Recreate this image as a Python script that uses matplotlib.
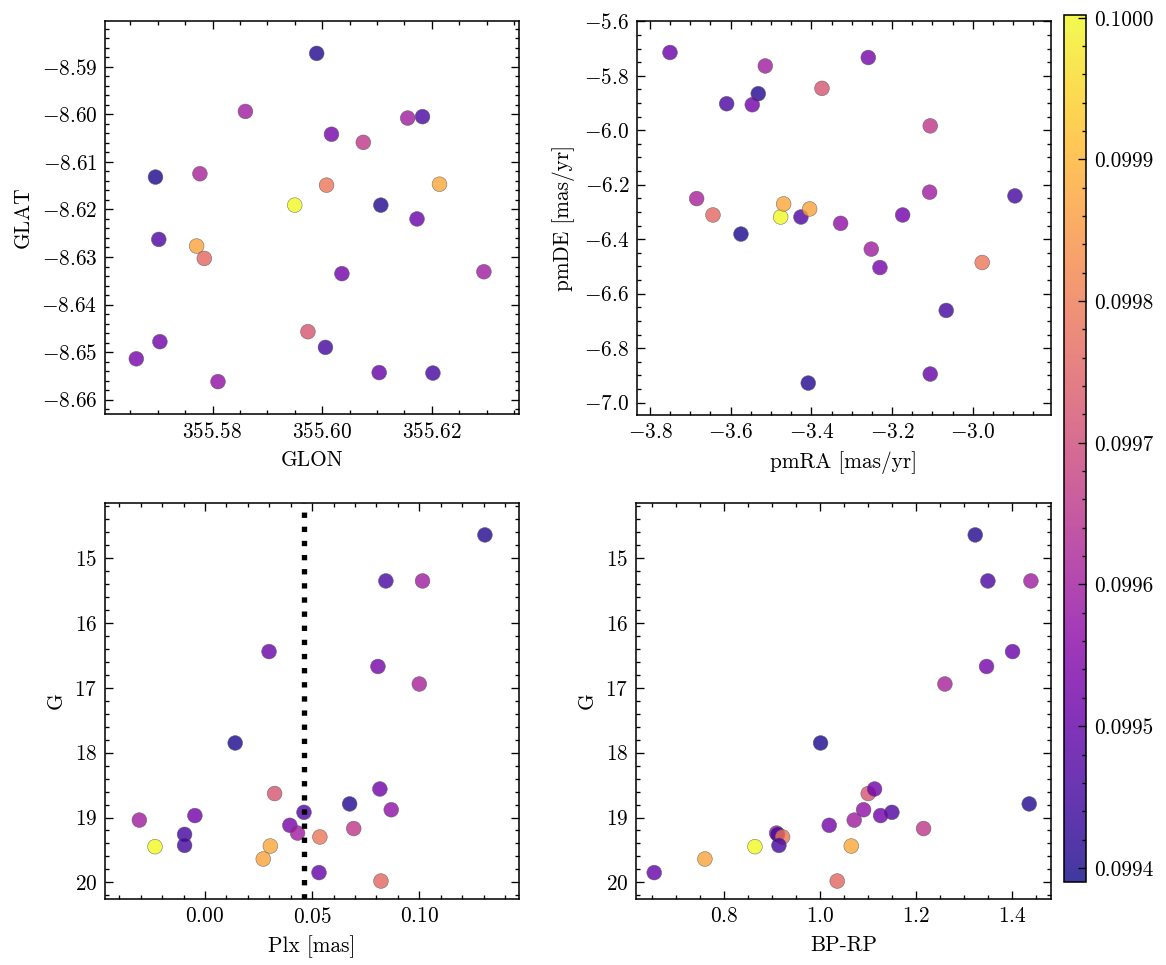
import numpy as np
import matplotlib
matplotlib.use("Agg")
import matplotlib.pyplot as plt
from matplotlib.ticker import AutoMinorLocator, MultipleLocator, FormatStrFormatter

plt.rcParams['font.family'] = 'serif'
plt.rcParams['font.serif'] = ['cmr10']
plt.rcParams['mathtext.fontset'] = 'cm'
plt.rcParams['axes.formatter.use_mathtext'] = True
plt.rcParams['font.size'] = 9.6
plt.rcParams['axes.unicode_minus'] = True

# ---- data (one entry per star) ----
prob = [0.09941, 0.09946, 0.09960, 0.09951, 0.09953, 0.09961, 0.09940, 0.09972,
        0.09952, 0.09941, 0.09957, 0.09947, 0.09952, 0.09960, 0.09953, 0.09960,
        0.09966, 0.09945, 0.09979, 0.09945, 0.10000, 0.09988, 0.09987, 0.09950,
        0.09976]
plx = [0.1306, 0.0844, 0.1015, 0.0299, 0.0807, 0.1000, 0.0141, 0.0325,
       0.0816, 0.0675, 0.0869, 0.0462, -0.0047, -0.0306, 0.0396, 0.0432,
       0.0694, -0.0095, 0.0536, -0.0095, -0.0233, 0.0305, 0.0272, 0.0532,
       0.0821]
gmag = [14.64, 15.35, 15.35, 16.44, 16.67, 16.94, 17.85, 18.63,
        18.56, 18.79, 18.88, 18.92, 18.97, 19.04, 19.12, 19.24,
        19.17, 19.26, 19.30, 19.43, 19.45, 19.44, 19.64, 19.85,
        19.98]
bprp = [1.3236, 1.350, 1.4396, 1.4014, 1.3472, 1.2604, 1.0014, 1.1007,
        1.1139, 1.4361, 1.0910, 1.150, 1.1265, 1.0715, 1.0194, 0.9097,
        1.2160, 0.912, 0.9222, 0.9146, 0.8646, 1.0653, 0.7604, 0.6548,
        1.0361]
glon = [355.5990, 355.6183, 355.6156, 355.6173, 355.6017, 355.5777, 355.5696, 355.5974,
        355.6036, 355.6107, 355.5810, 355.5702, 355.5704, 355.6295, 355.5661, 355.5860,
        355.6075, 355.6006, 355.6008, 355.6202, 355.5950, 355.6214, 355.5771, 355.6104,
        355.5785]
glat = [-8.5872, -8.6005, -8.6008, -8.6220, -8.6042, -8.6125, -8.6132, -8.6457,
        -8.6335, -8.6191, -8.6562, -8.6263, -8.6478, -8.6331, -8.6514, -8.5994,
        -8.6059, -8.6490, -8.6149, -8.6544, -8.6191, -8.6147, -8.6277, -8.6543,
        -8.6303]
pmra = [-3.5316, -3.6099, -3.5142, -3.7504, -3.2589, -3.6843, -3.5745, -3.3737,
        -3.5465, -3.4077, -3.3274, -3.4258, -3.1737, -3.1068, -3.2300, -3.2515,
        -3.1053, -2.8954, -2.9765, -3.0657, -3.4761, -3.4687, -3.4042, -3.1053,
        -3.6439]
pmde = [-5.8657, -5.9026, -5.7638, -5.7144, -5.7329, -6.2509, -6.3812, -5.8461,
        -5.9063, -6.9284, -6.3417, -6.3185, -6.3111, -6.2273, -6.5041, -6.4365,
        -5.9838, -6.2410, -6.4856, -6.6616, -6.3185, -6.2705, -6.2889, -6.8952,
        -6.3111]
plx_cut = 0.0462
cbar_ticks = [0.0994, 0.0995, 0.0996, 0.0997, 0.0998, 0.0999, 0.1000]

VMIN, VMAX = 0.09939, 0.100002

fig = plt.figure(figsize=(1166 / 160, 965 / 160), dpi=160)

def style(ax):
    ax.tick_params(which='both', direction='in', top=True, right=True, width=0.6)
    ax.tick_params(which='major', length=3.6)
    ax.tick_params(which='minor', length=1.8)
    ax.xaxis.set_minor_locator(AutoMinorLocator())
    ax.yaxis.set_minor_locator(AutoMinorLocator())
    for s in ax.spines.values():
        s.set_linewidth(0.7)

def scat(ax, x, y):
    return ax.scatter(x, y, c=prob, cmap='plasma', vmin=VMIN, vmax=VMAX, s=44,
                      alpha=0.8, edgecolors='0.35', linewidths=0.25, zorder=3)

L1, W = 0.0901, 0.3550
L2 = 0.5463
B1, H = 0.5710, 0.4072
B2 = 0.0684

ax1 = fig.add_axes([L1, B1, W, H])
sc = scat(ax1, glon, glat)
ax1.set_xlim(355.5604, 355.6359)
ax1.set_ylim(-8.6630, -8.5804)
ax1.xaxis.set_major_locator(MultipleLocator(0.02))
ax1.yaxis.set_major_locator(MultipleLocator(0.01))
ax1.set_xlabel('GLON')
ax1.set_ylabel('GLAT')
style(ax1)

ax2 = fig.add_axes([L2, B1 - 0.001, W, H + 0.001])
scat(ax2, pmra, pmde)
ax2.set_xlim(-3.8322, -2.8062)
ax2.set_ylim(-7.0454, -5.5989)
ax2.xaxis.set_major_locator(MultipleLocator(0.2))
ax2.yaxis.set_major_locator(MultipleLocator(0.2))
ax2.set_xlabel('pmRA [mas/yr]')
ax2.set_ylabel('pmDE [mas/yr]')
style(ax2)

ax3 = fig.add_axes([L1, B2, W, 0.4104])
scat(ax3, plx, gmag)
ax3.axvline(plx_cut, color='k', ls=':', lw=2.4, zorder=4)
ax3.set_xlim(-0.0466, 0.1465)
ax3.set_ylim(20.257, 14.147)
ax3.xaxis.set_major_locator(MultipleLocator(0.05))
ax3.yaxis.set_major_locator(MultipleLocator(1))
ax3.set_xlabel('Plx [mas]')
ax3.set_ylabel('G')
style(ax3)

ax4 = fig.add_axes([L2 - 0.0009, B2, W + 0.0009, 0.4104])
scat(ax4, bprp, gmag)
ax4.set_xlim(0.6167, 1.4813)
ax4.set_ylim(20.257, 14.147)
ax4.xaxis.set_major_locator(MultipleLocator(0.2))
ax4.yaxis.set_major_locator(MultipleLocator(1))
ax4.set_xlabel('BP-RP')
ax4.set_ylabel('G')
style(ax4)

cax = fig.add_axes([0.9125, 0.0860, 0.0189, 0.8985])
cb = fig.colorbar(sc, cax=cax)
cb.set_ticks(cbar_ticks)
cb.ax.yaxis.set_major_formatter(FormatStrFormatter('%.4f'))
cb.ax.yaxis.set_minor_locator(AutoMinorLocator(5))
cb.ax.tick_params(which='both', direction='in', right=True, width=0.6)
cb.ax.tick_params(which='major', length=3.6)
cb.ax.tick_params(which='minor', length=1.8)
cb.outline.set_linewidth(0.7)

fig.savefig('out.png', dpi=160)
